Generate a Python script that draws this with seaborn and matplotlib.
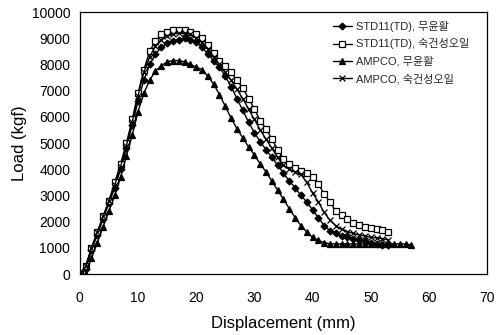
import matplotlib
matplotlib.use("Agg")
import matplotlib.pyplot as plt
import seaborn as sns
import pandas as pd

# Displacement (mm) and Load (kgf)
x_std_dry = list(range(0, 54))
y_std_dry = [0, 200, 900, 1500, 2100, 2700, 3300, 4000, 4800, 5700,
             6600, 7400, 8000, 8400, 8650, 8800, 8900, 8950, 9000, 8950,
             8850, 8650, 8400, 8150, 7900, 7550, 7150, 6700, 6250, 5800,
             5400, 5050, 4750, 4450, 4150, 3850, 3550, 3300, 3000, 2750,
             2450, 2150, 1850, 1650, 1550, 1450, 1400, 1350, 1300, 1250,
             1200, 1150, 1100, 1100]

x_std_oil = list(range(0, 54))
y_std_oil = [0, 300, 1000, 1600, 2200, 2800, 3500, 4200, 5000, 5900,
             6900, 7800, 8500, 8900, 9150, 9250, 9300, 9300, 9300, 9250,
             9150, 9000, 8750, 8450, 8150, 7950, 7700, 7400, 7100, 6700,
             6300, 5850, 5550, 5150, 4750, 4400, 4200, 4050, 3950, 3850,
             3700, 3450, 3050, 2750, 2400, 2250, 2100, 1950, 1870, 1800,
             1750, 1720, 1680, 1600]

x_amp_dry = list(range(0, 58))
y_amp_dry = [0, 0, 600, 1200, 1800, 2400, 3000, 3700, 4500, 5300,
             6200, 6900, 7400, 7750, 7950, 8100, 8150, 8150, 8100, 8000,
             7900, 7800, 7550, 7250, 6850, 6400, 5950, 5550, 5200, 4850,
             4550, 4200, 3900, 3550, 3200, 2850, 2500, 2150, 1850, 1600,
             1400, 1280, 1200, 1150, 1150, 1150, 1150, 1150, 1150, 1150,
             1150, 1150, 1150, 1150, 1150, 1150, 1150, 1100]

x_amp_oil = list(range(0, 54))
y_amp_oil = [0, 300, 1000, 1600, 2200, 2800, 3400, 4100, 4900, 5800,
             6800, 7700, 8300, 8700, 8950, 9100, 9150, 9200, 9200, 9150,
             9000, 8850, 8600, 8300, 8000, 7700, 7400, 7050, 6700, 6300,
             5900, 5500, 5150, 4800, 4450, 4150, 4000, 3900, 3800, 3500,
             3100, 2750, 2350, 2050, 1850, 1700, 1620, 1550, 1500, 1450,
             1400, 1380, 1350, 1300]

labels = ["STD11(TD), 무윤활", "STD11(TD), 숙건성오일", "AMPCO, 무윤활", "AMPCO, 숙건성오일"]
x_ticks = [0, 10, 20, 30, 40, 50, 60, 70]
y_ticks = [0, 1000, 2000, 3000, 4000, 5000, 6000, 7000, 8000, 9000, 10000]

sns.set_theme(style="white")
plt.rcParams['font.family'] = ['Liberation Sans', 'Noto Sans CJK KR', 'DejaVu Sans']

fig = plt.figure(figsize=(4.96, 3.35), dpi=100)
ax = fig.add_axes([0.161, 0.182, 0.821, 0.782])

series = [
    (x_std_dry, y_std_dry, "D", "black", 3.5),
    (x_std_oil, y_std_oil, "s", "white", 4.0),
    (x_amp_dry, y_amp_dry, "^", "black", 4.0),
    (x_amp_oil, y_amp_oil, "x", "black", 4.0),
]
for (xs, ys, mk, mfc, ms), lab in zip(series, labels):
    df = pd.DataFrame({"x": xs, "y": ys})
    sns.lineplot(data=df, x="x", y="y", ax=ax, color="black", lw=1.0,
                 marker=mk, markersize=ms, markerfacecolor=mfc,
                 markeredgecolor="black", markeredgewidth=0.9, label=lab)

ax.set_xlim(0, 70)
ax.set_ylim(0, 10000)
ax.set_xticks(x_ticks)
ax.set_yticks(y_ticks)
ax.tick_params(axis="both", labelsize=10, colors="black", length=3,
               direction="in", width=0.8)
ax.tick_params(axis="x", pad=12)
ax.tick_params(axis="y", pad=7)
for s in ax.spines.values():
    s.set_color("black")
    s.set_linewidth(0.9)
ax.set_xlabel("Displacement (mm)", fontsize=12, color="black", labelpad=8)
ax.set_ylabel("Load (kgf)", fontsize=12, color="black", labelpad=3)

leg = ax.legend(loc="upper left", bbox_to_anchor=(0.61, 0.985), frameon=False,
                handlelength=1.7, handletextpad=0.4, borderaxespad=0.0,
                labelspacing=0.62,
                prop={'family': ['Liberation Sans', 'Noto Sans CJK KR'], 'size': 8})

fig.savefig("out.png", dpi=100)
